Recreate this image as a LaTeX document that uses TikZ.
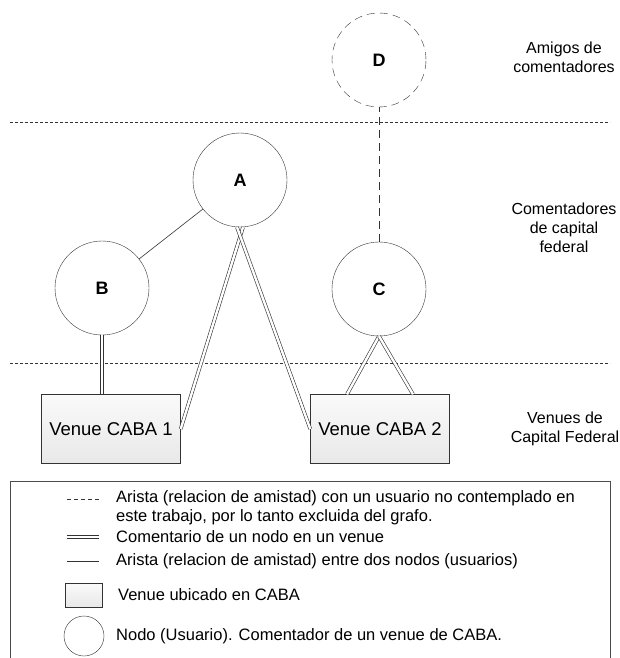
\documentclass[tikz,border=0pt]{standalone}
\usepackage{fontspec}
\setmainfont{Liberation Sans}
\usetikzlibrary{positioning}

\begin{document}
\begin{tikzpicture}[x=1pt, y=-1pt,
    user/.style={draw=black!80, fill=white, circle, minimum size=94pt, inner sep=0pt, font=\fontsize{18}{20}\selectfont\bfseries},
    venue/.style={draw=black!80, top color=gray!4, bottom color=gray!18, minimum width=139pt, minimum height=69pt, inner sep=0pt, font=\fontsize{18.5}{20}\selectfont},
    comenta/.style={draw=black!80, double=white, double distance=2.4pt, line width=0.6pt},
    amistad/.style={draw=black!80, line width=0.6pt},
    excluida/.style={draw=black!80, line width=0.6pt, dash pattern=on 8pt off 5pt},
    sep/.style={draw=black!80, line width=0.6pt, dash pattern=on 3pt off 2pt},
    side/.style={align=center, font=\fontsize{16}{19}\selectfont},
    leyenda/.style={anchor=west, align=left, inner sep=0pt, font=\fontsize{16.5}{19}\selectfont}]
    \useasboundingbox (0,0) rectangle (619,658);

    % Niveles
    \draw[sep] (10,122) -- (610,122);
    \draw[sep] (10,363) -- (610,363);
    \node[side] (amigos) at (564,57) {Amigos de\\comentadores};
    \node[side] (comentadores) at (564,228) {Comentadores\\de capital\\federal};
    \node[side] (venues) at (565,429) {Venues de\\Capital Federal};

    % Usuarios
    \node[user, dash pattern=on 8pt off 5pt] (D) at (379,60) {D};
    \node[user] (A) at (240,180) {A};
    \node[user] (B) at (102,288) {B};
    \node[user] (C) at (379,289) {C};

    % Venues
    \node[venue] (v1) at (111,429) {Venue CABA 1};
    \node[venue] (v2) at (380,429) {Venue CABA 2};

    % Aristas
    \draw[amistad] (A) -- (B);
    \draw[excluida] (C) -- (D);
    \draw[comenta] (B.south) -- (B.south |- v1.north);
    \draw[comenta] ([xshift=3pt]A.south) -- (v1.east);
    \draw[comenta] ([xshift=-3pt]A.south) -- (v2.west);
    \draw[comenta] (C.south) -- ([xshift=-33pt]v2.north);
    \draw[comenta] (C.south) -- ([xshift=33pt]v2.north);

    % Leyenda
    \draw[draw=black!70, line width=0.8pt] (10,660) -- (10,481) -- (610,481) -- (610,660);
    \draw[amistad, dash pattern=on 4pt off 3pt] (67,499) -- (99,499);
    \node[leyenda] (l1) at (116,508) {Arista (relacion de amistad) con un usuario no contemplado en\\este trabajo, por lo tanto excluida del grafo.};
    \draw[comenta] (67,537) -- (99,537);
    \node[leyenda] (l2) at (116,537) {Comentario de un nodo en un venue};
    \draw[amistad] (67,561) -- (99,561);
    \node[leyenda] (l3) at (116,561) {Arista (relacion de amistad) entre dos nodos (usuarios)};
    \draw[draw=black!80, top color=gray!4, bottom color=gray!18] (65,583) rectangle (102,607);
    \node[leyenda] (l4) at (118,595) {Venue ubicado en CABA};
    \draw[draw=black!80, fill=white] (84,636) circle (20pt);
    \node[leyenda] (l5) at (116,636) {Nodo (Usuario). Comentador de un venue de CABA.};
\end{tikzpicture}
\end{document}
